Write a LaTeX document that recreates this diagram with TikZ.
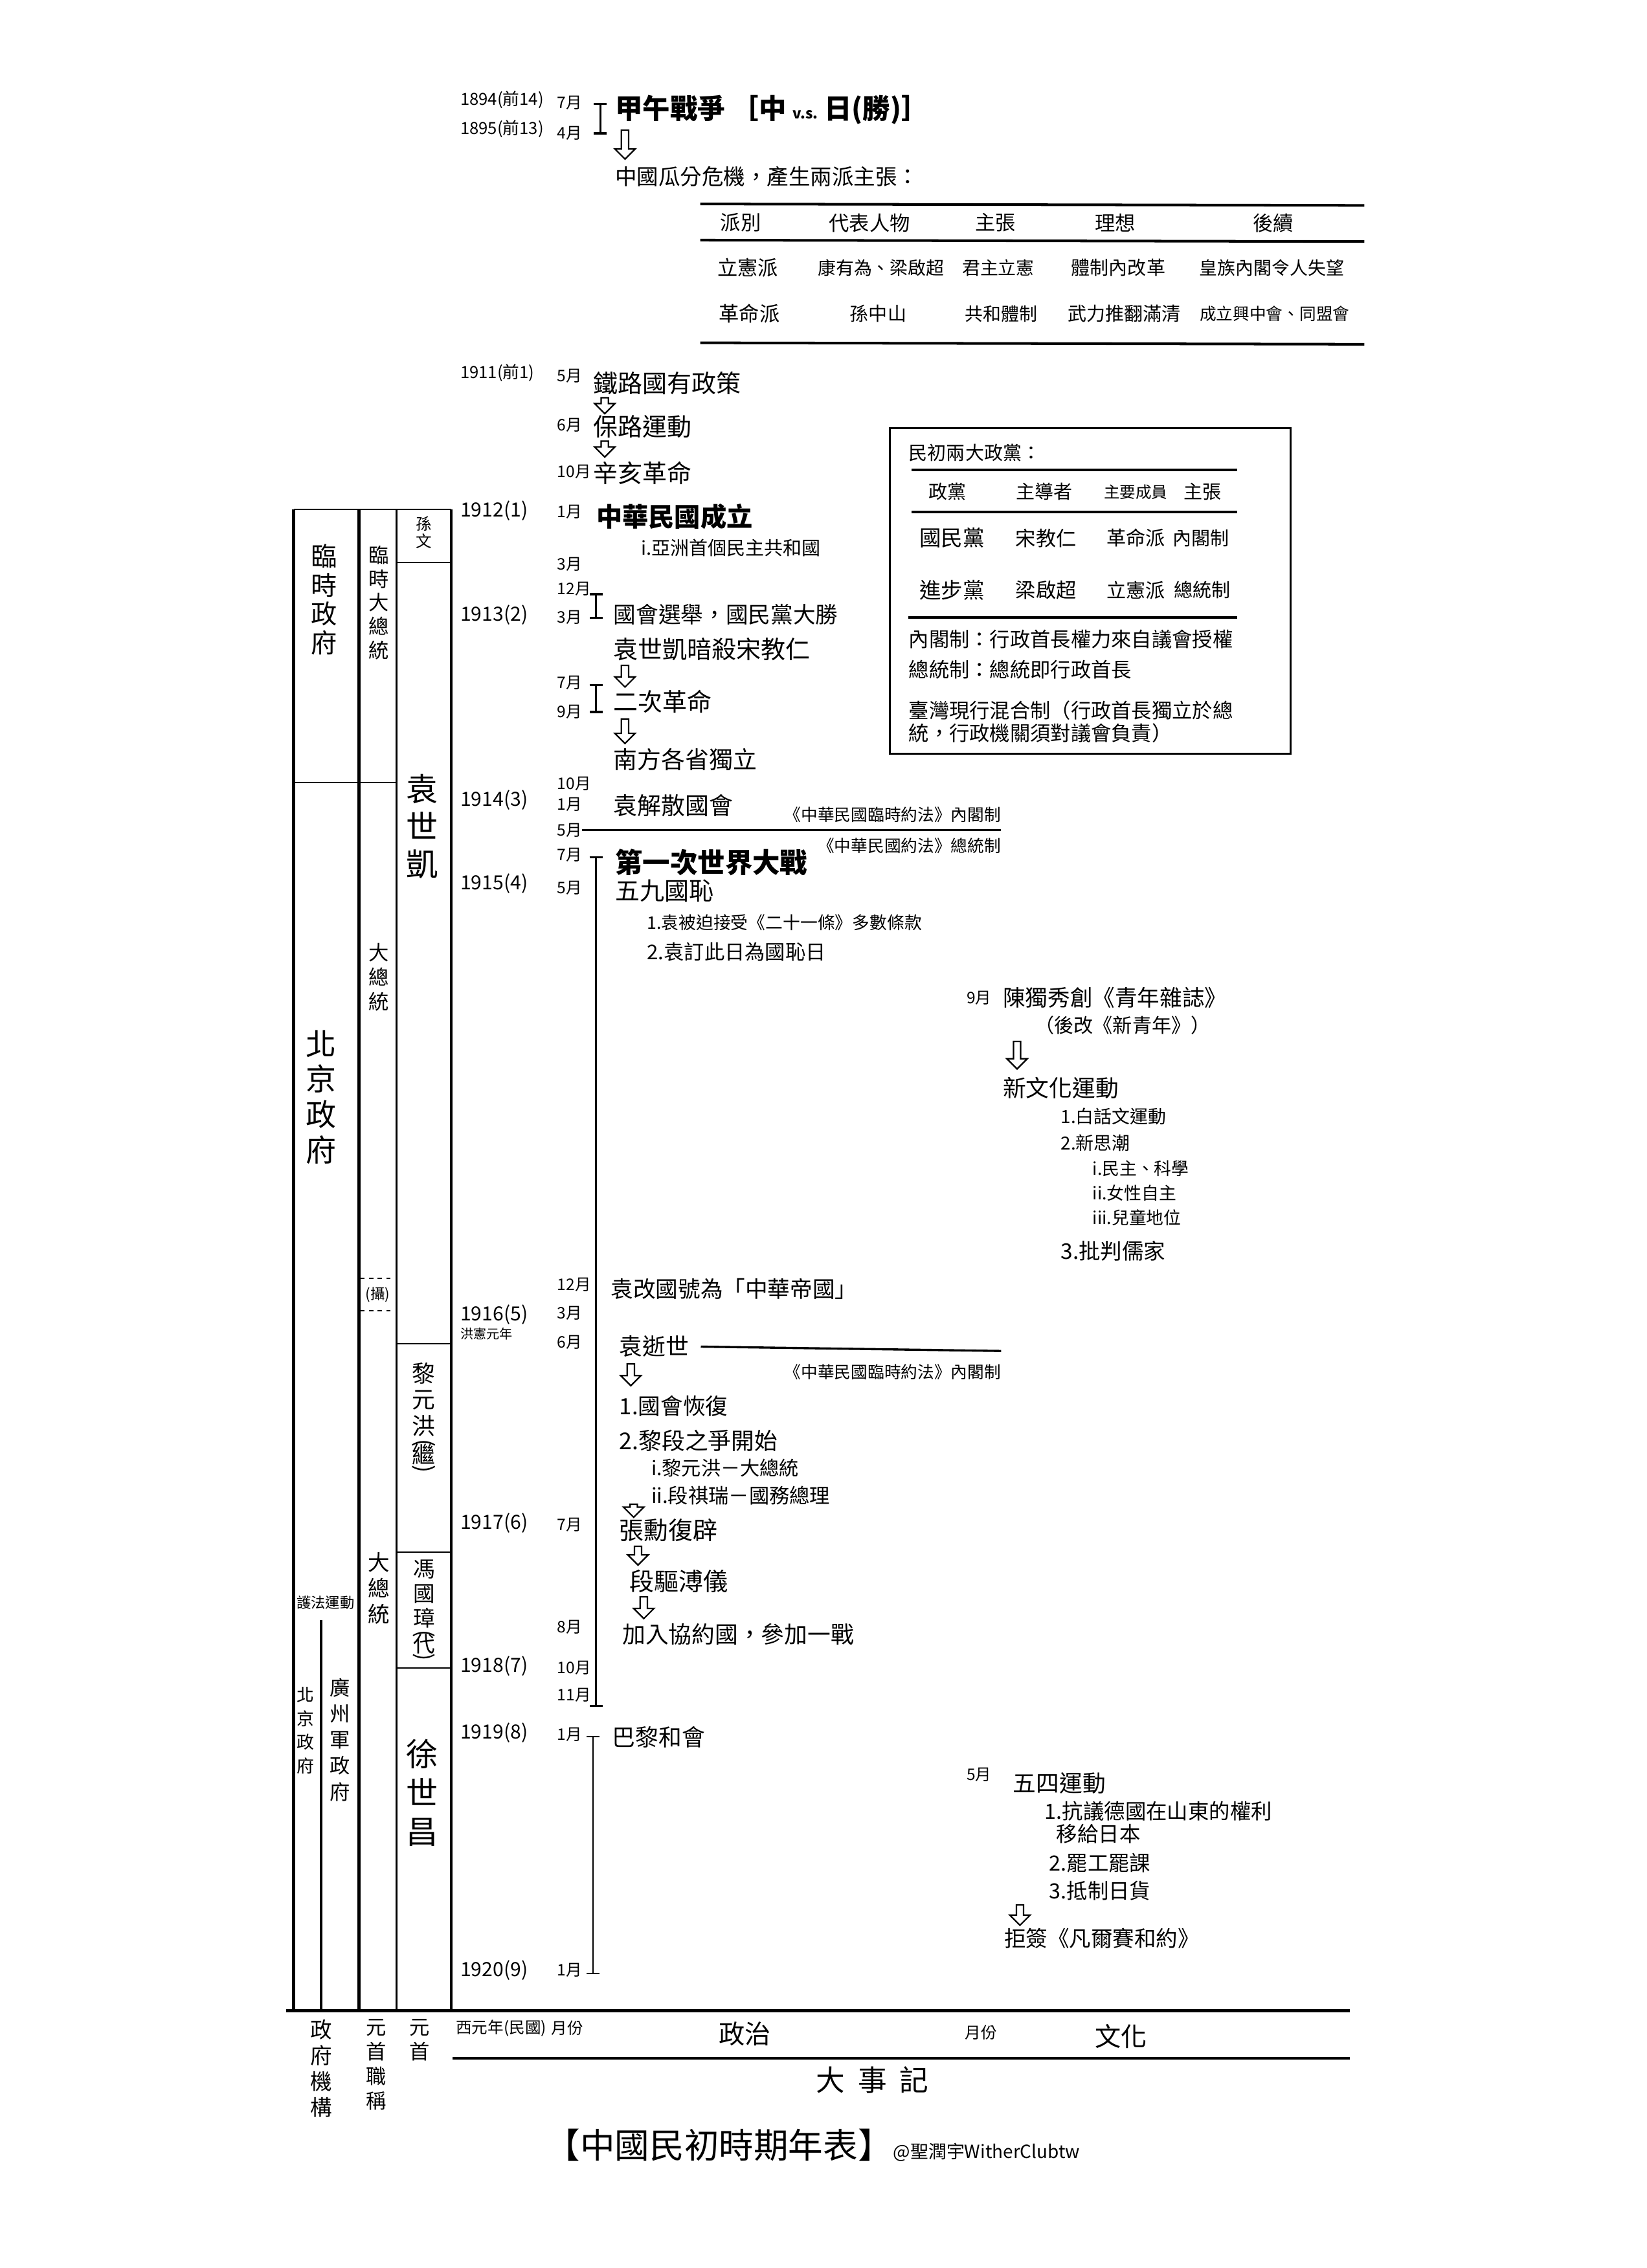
\documentclass[tikz,border=0pt]{standalone}
\usepackage{graphicx}
\usepackage{fontspec}
\setmainfont{Noto Sans CJK TC}
\usetikzlibrary{arrows.meta}
\newcommand\vparopen{\rotatebox[origin=c]{-90}{(}}
\newcommand\vparclose{\rotatebox[origin=c]{-90}{)}}
\begin{document}
\begin{tikzpicture}[x=1pt,y=-1pt,
  every node/.style={inner sep=0pt,anchor=west},
  fs/.style={font=\fontsize{#1}{#1}\selectfont},
  fsb/.style={font=\fontsize{#1}{#1}\selectfont\bfseries},
  vt/.style 2 args={anchor=north,align=center,font=\fontsize{#1}{#2}\selectfont},
  cc/.style={anchor=center},
  yr/.style={fs=13.5},
  yrs/.style={fs=11.5},
  mo/.style={fs=11},
  rulethick/.style={line width=1.8pt},
  rulethin/.style={line width=0.9pt},
  colthick/.style={line width=2.2pt},
  spanbar/.style={line width=1.5pt,arrows={Bar[width=9pt]-Bar[width=9pt]}},
  longbar/.style={line width=1.2pt,arrows={Bar[width=9pt]-Bar[width=9pt]}},
  harrow/.pic={\draw[line width=1pt,line join=miter,fill=white]
     (-2.5,0) -- (2.5,0) -- (2.5,#1-7) -- (7,#1-7) -- (0,#1) -- (-7,#1-7) -- (-2.5,#1-7) -- cycle;}
]
\useasboundingbox (0,0) rectangle (1138,1568);
\fill[white] (0,0) rectangle (1138,1568);

% ---------- 1894-1895 ----------
\node[yrs] (y1894) at (318,69) {1894(前14)};
\node[mo] (m1894) at (385,71) {7月};
\node[yrs] (y1895) at (318,89) {1895(前13)};
\node[mo] (m1895) at (385,92) {4月};
\coordinate (jwt) at (415,71);
\coordinate (jwb) at (415,93);
\draw[spanbar] (jwt) -- (jwb);
\node[fsb=19] (jiawu) at (425,76) {甲午戰爭\ ［中\ {\fontsize{10}{10}\selectfont v.s.}\ 日(勝)］};
\pic (ar0) at (432,90) {harrow=20};
\node[fs=15] (guafen) at (425,122) {中國瓜分危機，產生兩派主張：};

% ---------- two factions table ----------
\draw[rulethick] (484,141) -- (943,142);
\draw[rulethick] (484,166) -- (943,167);
\draw[rulethick] (484,237) -- (943,238);
\node[fs=14,cc] (h1) at (512,154) {派別};
\node[fs=14,cc] (h2) at (601,154) {代表人物};
\node[fs=14,cc] (h3) at (688,154) {主張};
\node[fs=14,cc] (h4) at (771,154) {理想};
\node[fs=14,cc] (h5) at (880,154) {後續};
\node[fs=14,cc] (r11) at (517,185) {立憲派};
\node[fs=12.5,cc] (r12) at (609,185) {康有為、梁啟超};
\node[fs=12.5,cc] (r13) at (690,185) {君主立憲};
\node[fs=13,cc] (r14) at (773,185) {體制內改革};
\node[fs=12.5,cc] (r15) at (879,185) {皇族內閣令人失望};
\node[fs=14,cc] (r21) at (518,217) {革命派};
\node[fs=13,cc] (r22) at (607,217) {孫中山};
\node[fs=12.5,cc] (r23) at (692,217) {共和體制};
\node[fs=13,cc] (r24) at (777,217) {武力推翻滿清};
\node[fs=11.5,cc] (r25) at (881,217) {成立興中會、同盟會};

% ---------- 1911 ----------
\node[yrs] (y1911) at (318,258) {1911(前1)};
\node[mo] (m1911a) at (385,260) {5月};
\node[fs=17] (tielu) at (410,265) {鐵路國有政策};
\pic (ar1) at (418,275) {harrow=11};
\node[mo] (m1911b) at (385,294) {6月};
\node[fs=17] (baolu) at (410,295) {保路運動};
\pic (ar2) at (418,305) {harrow=11};
\node[mo] (m1911c) at (385,326) {10月};
\node[fs=17] (xinhai) at (410,327) {辛亥革命};

% ---------- two parties box ----------
\draw[line width=1.5pt] (615,296) rectangle (892,521);
\node[fs=13] (ptitle) at (628,313) {民初兩大政黨：};
\draw[rulethick] (630,325) -- (855,325);
\draw[rulethick] (630,354) -- (855,354);
\draw[rulethick] (628,427) -- (855,427);
\node[fs=13,cc] (ph1) at (655,340) {政黨};
\node[fs=13,cc] (ph2) at (722,340) {主導者};
\node[fs=11,cc] (ph3) at (785,340) {主要成員};
\node[fs=13,cc] (ph4) at (831,340) {主張};
\node[fs=15,cc] (pa1) at (658,372) {國民黨};
\node[fs=14,cc] (pa2) at (723,372) {宋教仁};
\node[fs=13.5,cc] (pa3) at (785,372) {革命派};
\node[fs=13,cc] (pa4) at (830,372) {內閣制};
\node[fs=15,cc] (pb1) at (658,408) {進步黨};
\node[fs=14,cc] (pb2) at (723,408) {梁啟超};
\node[fs=13.5,cc] (pb3) at (785,408) {立憲派};
\node[fs=13,cc] (pb4) at (831,408) {總統制};
\node[fs=14] (note1) at (628,442) {內閣制：行政首長權力來自議會授權};
\node[fs=14] (note2) at (628,463) {總統制：總統即行政首長};
\node[fs=14] (note3) at (628,491) {臺灣現行混合制（行政首長獨立於總};
\node[fs=14] (note4) at (628,507) {統，行政機關須對議會負責）};

% ---------- left columns: government, title of head, head ----------
\draw[rulethin] (203,352) -- (312,352);
\draw[colthick] (203,352) -- (203,1390);
\draw[colthick] (248,352) -- (248,1390);
\draw[line width=1.2pt] (274,352) -- (274,1390);
\draw[line width=2pt] (312,352) -- (312,1390);
\draw[rulethin] (203,541) -- (274,541);
\draw[rulethin] (274,389) -- (312,389);
\draw[rulethin] (274,929) -- (312,929);
\draw[rulethin] (274,1073) -- (312,1073);
\draw[rulethin] (274,1153) -- (312,1153);
\draw[line width=1.5pt] (222,1120) -- (222,1390);
\draw[rulethin,dashed] (249,884) -- (273,884);
\draw[rulethin,dashed] (249,906) -- (273,906);

\node[vt={18}{20}] (linshi) at (224,376) {臨\\時\\政\\府};
\node[vt={14}{16.5}] (lsdzt) at (262,377) {臨\\時\\大\\總\\統};
\node[vt={11}{12}] (sunwen) at (293,357) {孫\\文};
\node[vt={22}{26}] (yuan) at (292,535) {袁\\世\\凱};
\node[vt={14}{17}] (dzt1) at (262,652) {大\\總\\統};
\node[vt={21}{24.5}] (beijing) at (222,712) {北\\京\\政\\府};
\node[fs=10,cc] (she) at (261,895) {(攝)};
\node[vt={16}{18}] (li) at (293,942) {黎\\元\\洪\\[-7pt]\vparopen\\[-9pt]繼\\[-9pt]\vparclose};
\node[vt={15}{17}] (feng) at (293,1078) {馮\\國\\璋\\[-7pt]\vparopen\\[-9pt]代\\[-9pt]\vparclose};
\node[vt={15}{18}] (dzt2) at (262,1073) {大\\總\\統};
\node[vt={22}{27}] (xu) at (292,1202) {徐\\世\\昌};
\node[fs=10,cc] (hufa) at (225,1108) {護法運動};
\node[vt={12}{16.5}] (beijing2) at (211,1166) {北\\京\\政\\府};
\node[vt={14}{18}] (guangzhou) at (235,1160) {廣\\州\\軍\\政\\府};

% ---------- timeline: years and months ----------
\node[yr] (y1912) at (318,353) {1912(1)};
\node[mo] (m1912a) at (385,354) {1月};
\node[mo] (m1912b) at (385,390) {3月};
\node[mo] (m1912c) at (385,407) {12月};
\node[yr] (y1913) at (318,425) {1913(2)};
\node[mo] (m1913a) at (385,427) {3月};
\node[mo] (m1913b) at (385,472) {7月};
\node[mo] (m1913c) at (385,492) {9月};
\node[mo] (m1913d) at (385,542) {10月};
\node[yr] (y1914) at (318,553) {1914(3)};
\node[mo] (m1914a) at (385,556) {1月};
\node[mo] (m1914b) at (385,574) {5月};
\node[mo] (m1914c) at (385,591) {7月};
\node[yr] (y1915) at (318,611) {1915(4)};
\node[mo] (m1915a) at (385,614) {5月};
\node[mo] (m1915b) at (385,888) {12月};
\node[yr] (y1916) at (318,909) {1916(5)};
\node[fs=9] (hongxian) at (318,922) {洪憲元年};
\node[mo] (m1916a) at (385,908) {3月};
\node[mo] (m1916b) at (385,928) {6月};
\node[yr] (y1917) at (318,1053) {1917(6)};
\node[mo] (m1917a) at (385,1054) {7月};
\node[mo] (m1917b) at (385,1125) {8月};
\node[yr] (y1918) at (318,1152) {1918(7)};
\node[mo] (m1918a) at (385,1153) {10月};
\node[mo] (m1918b) at (385,1172) {11月};
\node[yr] (y1919) at (318,1198) {1919(8)};
\node[mo] (m1919) at (385,1199) {1月};
\node[yr] (y1920) at (318,1362) {1920(9)};
\node[mo] (m1920) at (385,1362) {1月};

% ---------- politics ----------
\node[fsb=18] (roc) at (412,357) {中華民國成立};
\node[fs=13] (roc1) at (443,379) {i.亞洲首個民主共和國};
\coordinate (b1t) at (412,410);
\coordinate (b1b) at (412,428);
\draw[spanbar] (b1t) -- (b1b);
\node[fs=15.5] (xuanju) at (424,425) {國會選舉，國民黨大勝};
\node[fs=17] (ansha) at (424,449) {袁世凱暗殺宋教仁};
\pic (ar3) at (432,460) {harrow=15};
\coordinate (b2t) at (412,473);
\coordinate (b2b) at (412,493);
\draw[spanbar] (b2t) -- (b2b);
\node[fs=17] (erci) at (424,485) {二次革命};
\pic (ar4) at (432,497) {harrow=17};
\node[fs=16.5] (nanfang) at (424,525) {南方各省獨立};
\node[fs=16.5] (jiesan) at (424,557) {袁解散國會};
\coordinate (law1end) at (692,574);
\draw[line width=1.5pt] (m1914b.east) -- (law1end);
\node[fs=11.5,anchor=south east] (law1a) at (692,569) {《中華民國臨時約法》內閣制};
\node[fs=11.5,anchor=north east] (law1b) at (692,579) {《中華民國約法》總統制};

\coordinate (wwt) at (412,592);
\coordinate (wwb) at (412,1180);
\draw[longbar] (wwt) -- (wwb);
\node[fsb=19] (ww1) at (425,596) {第一次世界大戰};
\node[fs=17] (wujiu) at (425,616) {五九國恥};
\node[fs=12] (wujiu1) at (447,638) {1.袁被迫接受《二十一條》多數條款};
\node[fs=14] (wujiu2) at (447,658) {2.袁訂此日為國恥日};

\node[fs=15.5] (diguo) at (422,891) {袁改國號為「中華帝國」};
\node[fs=16] (shishi) at (428,931) {袁逝世};
\coordinate (law2end) at (692,934);
\draw[line width=1.5pt] ([xshift=8pt]shishi.east) -- (law2end);
\node[fs=11.5,anchor=north east] (law2) at (692,943) {《中華民國臨時約法》內閣制};
\pic (ar5) at (436,943) {harrow=15};
\node[fs=15.5] (huifu) at (428,972) {1.國會恢復};
\node[fs=16] (liduan) at (428,996) {2.黎段之爭開始};
\node[fs=13.5] (liduan1) at (450,1015) {i.黎元洪－大總統};
\node[fs=14] (liduan2) at (450,1034) {ii.段祺瑞－國務總理};
\pic (ar6) at (438,1040) {harrow=9};
\node[fs=17] (fubi) at (428,1058) {張勳復辟};
\pic (ar7) at (441,1069) {harrow=13};
\node[fs=17] (puyi) at (435,1093) {段驅溥儀};
\pic (ar8) at (445,1104) {harrow=15};
\node[fs=16] (xieyue) at (430,1130) {加入協約國，參加一戰};

\coordinate (pat) at (410,1200);
\coordinate (pab) at (410,1365);
\draw[longbar,line width=1pt] (pat) -- (pab);
\node[fs=16] (bali) at (423,1201) {巴黎和會};

% ---------- culture ----------
\node[mo] (m1915c) at (668,690) {9月};
\node[fs=15.5] (chen) at (693,690) {陳獨秀創《青年雜誌》};
\node[fs=13.5] (chen2) at (715,709) {（後改《新青年》）};
\pic (ar9) at (703,720) {harrow=19};
\node[fs=16] (xinwenhua) at (693,752) {新文化運動};
\node[fs=12.5] (xw1) at (733,772) {1.白話文運動};
\node[fs=12.5] (xw2) at (733,790) {2.新思潮};
\node[fs=12] (xw2a) at (755,808) {i.民主、科學};
\node[fs=12] (xw2b) at (755,825) {ii.女性自主};
\node[fs=12] (xw2c) at (755,842) {iii.兒童地位};
\node[fs=15] (xw3) at (733,865) {3.批判儒家};

\node[fs=11] (m1919b) at (668,1227) {5月};
\node[fs=16] (wusi) at (700,1233) {五四運動};
\node[fs=14.5] (ws1) at (722,1252) {1.抗議德國在山東的權利};
\node[fs=14.5] (ws1b) at (730,1268) {移給日本};
\node[fs=14.5] (ws2) at (725,1288) {2.罷工罷課};
\node[fs=14.5] (ws3) at (725,1307) {3.抵制日貨};
\pic (ar10) at (705,1317) {harrow=14};
\node[fs=15] (juqian) at (694,1340) {拒簽《凡爾賽和約》};

% ---------- footer ----------
\draw[colthick] (198,1390) -- (933,1390);
\draw[colthick] (313,1423) -- (933,1423);
\node[vt={15}{18}] (fzjg) at (222,1396) {政\\府\\機\\構};
\node[vt={14}{17}] (yszc) at (260,1396) {元\\首\\職\\稱};
\node[vt={14}{17}] (ys) at (290,1396) {元\\首};
\node[fs=11] (colyear) at (315,1402) {西元年(民國)};
\node[fs=11] (colmonth) at (381,1402) {月份};
\node[fs=18,cc] (colpol) at (515,1406) {政治};
\node[fs=11,cc] (colmonth2) at (678,1405) {月份};
\node[fs=18,cc] (colcul) at (775,1408) {文化};
\node[fs=20,cc] (dashiji) at (603,1438) {大\ \ 事\ \ 記};
\node[fs=24,cc] (title) at (497,1483) {【中國民初時期年表】};
\node[fs=12.5,anchor=south west] (author) at (title.south east) {@聖潤宇WitherClubtw};
\end{tikzpicture}
\end{document}
